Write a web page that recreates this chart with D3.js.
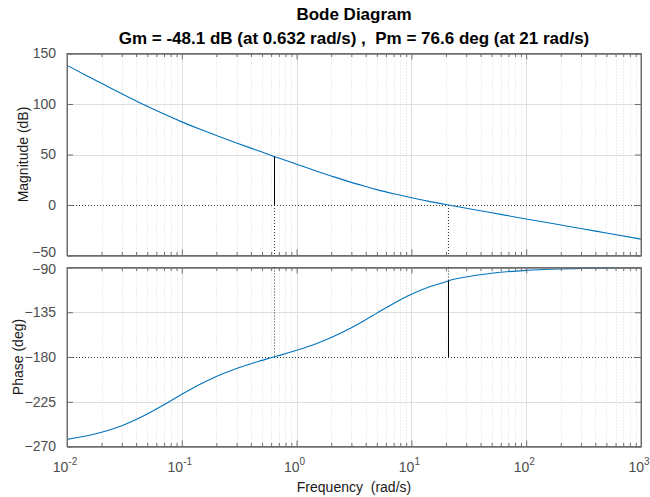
<!DOCTYPE html>
<html>
<head>
<meta charset="utf-8">
<script src="https://cdn.jsdelivr.net/npm/d3@7"></script>
<style>
  body { margin: 0; background: #fff; }
  svg text { font-family: "Liberation Sans", Arial, Helvetica, sans-serif; }
</style>
</head>
<body>
<div class="chart"></div>
<script>
// Bode diagram, values
var freq = [0.01, 0.015, 0.02, 0.03, 0.05, 0.07, 0.1, 0.15, 0.2, 0.3, 0.4, 0.5, 0.632, 0.7, 1, 1.5, 2, 3, 4, 5, 7, 10, 15, 20, 21, 30, 50, 100, 200, 300, 500, 1000];
var magDb = [138.3, 127.8, 120.5, 110.2, 97.7, 90.0, 82.3, 74.2, 68.8, 61.4, 56.3, 52.4, 48.1, 46.5, 40.4, 33.5, 28.8, 22.4, 18.3, 15.2, 11.1, 7.2, 3.1, 0.45, 0, -3.2, -7.7, -13.8, -19.8, -23.3, -27.8, -33.8];
var phaseDeg = [-262.8, -259.2, -255.7, -249.1, -237.4, -228.0, -217.5, -206.4, -199.5, -191.5, -186.7, -183.4, -180, -178.6, -173.3, -166.4, -160.5, -150.6, -142.5, -135.9, -126.2, -117.0, -108.7, -104.3, -103.4, -99.6, -95.8, -92.9, -91.5, -91.0, -90.6, -90.3];

var magTicks = [-50, 0, 50, 100, 150];
var phaseTicks = [-270, -225, -180, -135, -90];
var decadeTicks = [0.01, 0.1, 1, 10, 100, 1000];
var decadeExp = ["-2", "-1", "0", "1", "2", "3"];

var gmFreq = 0.632, gmDb = 48.1;      // Gm = -48.1 dB
var pmFreq = 21, pmPhase = -103.4;    // Pm = 76.6 deg

var svgWidth = 650;
var svgHeight = 497;
var left = 67, right = 641;
var magTop = 53.5, magBottom = 255.5;
var phTop = 267.5, phBottom = 446.5;

var svg = d3.select(".chart")
  .append("svg")
  .attr("width", svgWidth)
  .attr("height", svgHeight);

var xScale = d3.scaleLog()
  .domain([0.01, 1000])
  .range([left, right]);

var yMag = d3.scaleLinear().domain([-50, 150]).range([magBottom, magTop]);
var yPh = d3.scaleLinear().domain([-270, -90]).range([phBottom, phTop]);

// minor ticks 2..9 in every decade
var minorTicks = [];
decadeTicks.slice(0, -1).forEach(function(d) {
  for (var k = 2; k <= 9; k++) minorTicks.push(d * k);
});

var gridCol = "#dedede";
var boxCol = "#6e6e6e";
var textCol = "#4d4d4d";

function panel(yScale, yTicks, top, bottom, values, refValue, id) {
  var g = svg.append("g");

  // grid
  g.selectAll(".minor").data(minorTicks).enter().append("line")
    .attr("x1", d => Math.round(xScale(d)) + 0.5).attr("x2", d => Math.round(xScale(d)) + 0.5)
    .attr("y1", top).attr("y2", bottom)
    .attr("stroke", gridCol).attr("stroke-dasharray", "1,2");
  g.selectAll(".major").data(decadeTicks.slice(1, -1)).enter().append("line")
    .attr("x1", d => Math.round(xScale(d)) + 0.5).attr("x2", d => Math.round(xScale(d)) + 0.5)
    .attr("y1", top).attr("y2", bottom)
    .attr("stroke", gridCol);
  g.selectAll(".hgrid").data(yTicks.slice(1, -1).filter(d => d !== refValue)).enter().append("line")
    .attr("x1", left).attr("x2", right)
    .attr("y1", d => Math.round(yScale(d)) + 0.5).attr("y2", d => Math.round(yScale(d)) + 0.5)
    .attr("stroke", gridCol);

  // reference line (0 dB / -180 deg)
  g.append("line")
    .attr("x1", left).attr("x2", right)
    .attr("y1", Math.round(yScale(refValue)) + 0.5).attr("y2", Math.round(yScale(refValue)) + 0.5)
    .attr("stroke", "#333").attr("stroke-dasharray", "1,2");

  // clip
  svg.append("clipPath").attr("id", id)
    .append("rect").attr("x", left).attr("y", top).attr("width", right - left).attr("height", bottom - top);

  var line = d3.line()
    .x((d, i) => xScale(freq[i]))
    .y(d => yScale(d))
    .curve(d3.curveMonotoneX);

  g.append("path")
    .datum(values)
    .attr("clip-path", "url(#" + id + ")")
    .attr("fill", "none")
    .attr("stroke", "#0072BD")
    .attr("stroke-width", 1.1)
    .attr("d", line);

  // ticks on all four sides, pointing inward
  g.append("g").attr("transform", `translate(0, ${bottom})`)
    .call(d3.axisBottom(xScale).tickValues(minorTicks).tickSizeInner(-3.5).tickSizeOuter(0).tickFormat(""));
  g.append("g").attr("transform", `translate(0, ${bottom})`)
    .call(d3.axisBottom(xScale).tickValues(decadeTicks).tickSizeInner(-6).tickSizeOuter(0).tickFormat(""));
  g.append("g").attr("transform", `translate(0, ${top})`)
    .call(d3.axisTop(xScale).tickValues(minorTicks).tickSizeInner(-3.5).tickSizeOuter(0).tickFormat(""));
  g.append("g").attr("transform", `translate(0, ${top})`)
    .call(d3.axisTop(xScale).tickValues(decadeTicks).tickSizeInner(-6).tickSizeOuter(0).tickFormat(""));
  g.append("g").attr("transform", `translate(${left}, 0)`)
    .call(d3.axisLeft(yScale).tickValues(yTicks).tickSizeInner(-6).tickSizeOuter(0).tickPadding(11));
  g.append("g").attr("transform", `translate(${right}, 0)`)
    .call(d3.axisRight(yScale).tickValues(yTicks).tickSizeInner(-6).tickSizeOuter(0).tickFormat(""));

  g.selectAll(".tick line").attr("stroke", boxCol);
  g.selectAll(".domain").attr("stroke", boxCol);
  g.selectAll(".tick text")
    .attr("fill", textCol)
    .style("font-size", "14px")
    .style("font-family", '"Liberation Sans", Arial, sans-serif');

  // box
  g.append("rect")
    .attr("x", left).attr("y", top)
    .attr("width", right - left).attr("height", bottom - top)
    .attr("fill", "none").attr("stroke", boxCol);

  return g;
}

var magG = panel(yMag, magTicks, magTop, magBottom, magDb, 0, "clipMag");
var phG = panel(yPh, phaseTicks, phTop, phBottom, phaseDeg, -180, "clipPh");

// keep the -50 and -90 labels from running into each other
magG.selectAll(".tick text").filter(d => d === -50).attr("dy", "0.1em");
phG.selectAll(".tick text").filter(d => d === -90).attr("dy", "0.42em");

// stability margin markers
function vline(x, y1, y2, dotted) {
  var l = svg.append("line")
    .attr("x1", Math.round(x) + 0.5).attr("x2", Math.round(x) + 0.5)
    .attr("y1", y1).attr("y2", y2)
    .attr("stroke", dotted ? "#333" : "#000");
  if (dotted) l.attr("stroke-dasharray", "1,2");
}
var gx = xScale(gmFreq);
vline(gx, yMag(gmDb), yMag(0), false);
vline(gx, yMag(0), magBottom, true);
vline(gx, phTop, yPh(-180), true);

var px = xScale(pmFreq);
vline(px, yMag(0), magBottom, true);
vline(px, phTop, yPh(pmPhase), true);
vline(px, yPh(pmPhase), yPh(-180), false);

// x tick labels 10^n
var xl = svg.append("g");
decadeTicks.forEach(function(d, i) {
  var t = xl.append("text")
    .attr("x", xScale(d) - 2)
    .attr("y", 472)
    .attr("text-anchor", "middle")
    .attr("fill", textCol)
    .style("font-size", "14px");
  t.append("tspan").text("10");
  t.append("tspan").attr("dy", -7).style("font-size", "10px").text(decadeExp[i]);
});

// axis titles
svg.append("text")
  .attr("transform", `translate(28, ${(magTop + magBottom) / 2}) rotate(-90)`)
  .attr("text-anchor", "middle")
  .attr("fill", "#1a1a1a")
  .style("font-size", "14px")
  .text("Magnitude (dB)");

svg.append("text")
  .attr("transform", `translate(23, ${(phTop + phBottom) / 2}) rotate(-90)`)
  .attr("text-anchor", "middle")
  .attr("fill", "#1a1a1a")
  .style("font-size", "14px")
  .text("Phase (deg)");

svg.append("text")
  .attr("x", (left + right) / 2)
  .attr("y", 492)
  .attr("text-anchor", "middle")
  .attr("fill", "#1a1a1a")
  .style("font-size", "14px")
  .style("white-space", "pre")
  .text("Frequency  (rad/s)");

// title
svg.append("text")
  .attr("x", (left + right) / 2)
  .attr("y", 20)
  .attr("text-anchor", "middle")
  .attr("fill", "#000")
  .style("font-size", "17px")
  .style("font-weight", "bold")
  .text("Bode Diagram");

svg.append("text")
  .attr("x", (left + right) / 2)
  .attr("y", 44)
  .attr("text-anchor", "middle")
  .attr("fill", "#000")
  .style("font-size", "17px")
  .style("font-weight", "bold")
  .style("white-space", "pre")
  .text("Gm = -48.1 dB (at 0.632 rad/s) ,  Pm = 76.6 deg (at 21 rad/s)");
</script>
</body>
</html>
